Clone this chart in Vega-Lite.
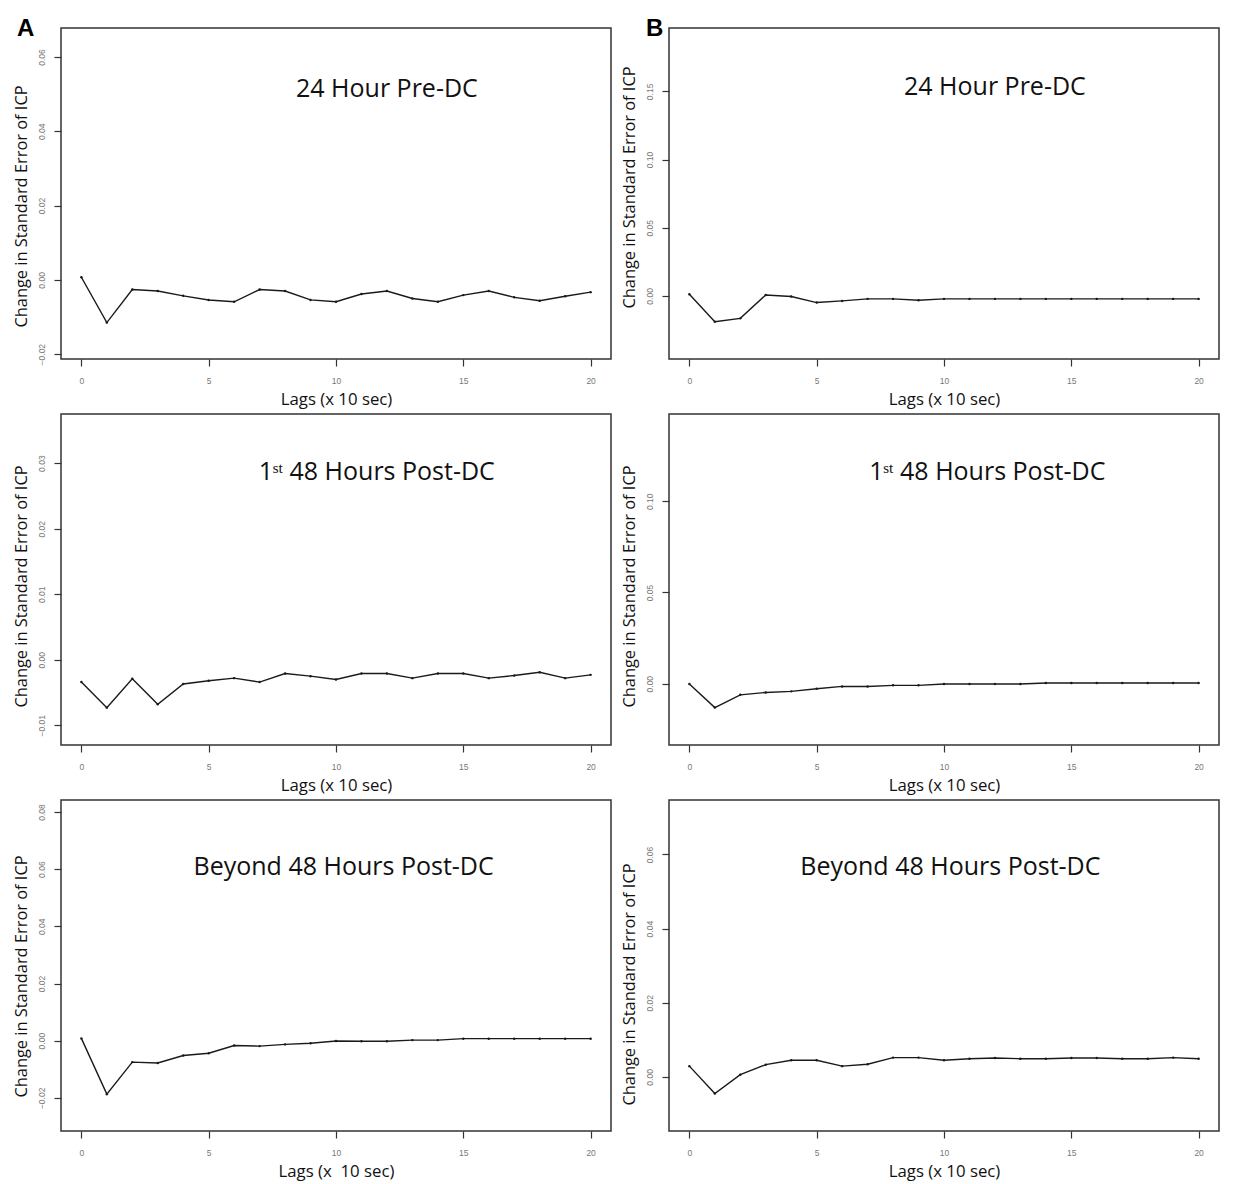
{
  "$schema": "https://vega.github.io/schema/vega-lite/v6.json",
  "background": "white",
  "padding": {"left": 12, "top": 16, "right": 10, "bottom": 0},
  "data": {"values": [
    {"panel":"A1","lag":0,"se":0.0007},{"panel":"A1","lag":1,"se":-0.0115},{"panel":"A1","lag":2,"se":-0.0026},{"panel":"A1","lag":3,"se":-0.003},{"panel":"A1","lag":4,"se":-0.0043},{"panel":"A1","lag":5,"se":-0.0054},{"panel":"A1","lag":6,"se":-0.0059},{"panel":"A1","lag":7,"se":-0.0026},{"panel":"A1","lag":8,"se":-0.003},{"panel":"A1","lag":9,"se":-0.0054},{"panel":"A1","lag":10,"se":-0.0059},{"panel":"A1","lag":11,"se":-0.0038},{"panel":"A1","lag":12,"se":-0.003},{"panel":"A1","lag":13,"se":-0.005},{"panel":"A1","lag":14,"se":-0.0059},{"panel":"A1","lag":15,"se":-0.0041},{"panel":"A1","lag":16,"se":-0.003},{"panel":"A1","lag":17,"se":-0.0047},{"panel":"A1","lag":18,"se":-0.0056},{"panel":"A1","lag":19,"se":-0.0044},{"panel":"A1","lag":20,"se":-0.0033},
    {"panel":"B1","lag":0,"se":0.0012},{"panel":"B1","lag":1,"se":-0.019},{"panel":"B1","lag":2,"se":-0.0165},{"panel":"B1","lag":3,"se":0.0007},{"panel":"B1","lag":4,"se":-0.0005},{"panel":"B1","lag":5,"se":-0.0049},{"panel":"B1","lag":6,"se":-0.0037},{"panel":"B1","lag":7,"se":-0.0022},{"panel":"B1","lag":8,"se":-0.0022},{"panel":"B1","lag":9,"se":-0.0032},{"panel":"B1","lag":10,"se":-0.0022},{"panel":"B1","lag":11,"se":-0.0022},{"panel":"B1","lag":12,"se":-0.0022},{"panel":"B1","lag":13,"se":-0.0022},{"panel":"B1","lag":14,"se":-0.0022},{"panel":"B1","lag":15,"se":-0.0022},{"panel":"B1","lag":16,"se":-0.0022},{"panel":"B1","lag":17,"se":-0.0022},{"panel":"B1","lag":18,"se":-0.0022},{"panel":"B1","lag":19,"se":-0.0022},{"panel":"B1","lag":20,"se":-0.0022},
    {"panel":"A2","lag":0,"se":-0.0034},{"panel":"A2","lag":1,"se":-0.0073},{"panel":"A2","lag":2,"se":-0.0029},{"panel":"A2","lag":3,"se":-0.0068},{"panel":"A2","lag":4,"se":-0.0037},{"panel":"A2","lag":5,"se":-0.0032},{"panel":"A2","lag":6,"se":-0.0028},{"panel":"A2","lag":7,"se":-0.0034},{"panel":"A2","lag":8,"se":-0.0021},{"panel":"A2","lag":9,"se":-0.0025},{"panel":"A2","lag":10,"se":-0.003},{"panel":"A2","lag":11,"se":-0.0021},{"panel":"A2","lag":12,"se":-0.0021},{"panel":"A2","lag":13,"se":-0.0028},{"panel":"A2","lag":14,"se":-0.0021},{"panel":"A2","lag":15,"se":-0.0021},{"panel":"A2","lag":16,"se":-0.0028},{"panel":"A2","lag":17,"se":-0.0024},{"panel":"A2","lag":18,"se":-0.0019},{"panel":"A2","lag":19,"se":-0.0028},{"panel":"A2","lag":20,"se":-0.0023},
    {"panel":"B2","lag":0,"se":-0.0002},{"panel":"B2","lag":1,"se":-0.0131},{"panel":"B2","lag":2,"se":-0.0061},{"panel":"B2","lag":3,"se":-0.0048},{"panel":"B2","lag":4,"se":-0.0042},{"panel":"B2","lag":5,"se":-0.0028},{"panel":"B2","lag":6,"se":-0.0015},{"panel":"B2","lag":7,"se":-0.0015},{"panel":"B2","lag":8,"se":-0.0009},{"panel":"B2","lag":9,"se":-0.0009},{"panel":"B2","lag":10,"se":-0.0002},{"panel":"B2","lag":11,"se":-0.0002},{"panel":"B2","lag":12,"se":-0.0002},{"panel":"B2","lag":13,"se":-0.0002},{"panel":"B2","lag":14,"se":0.0004},{"panel":"B2","lag":15,"se":0.0004},{"panel":"B2","lag":16,"se":0.0004},{"panel":"B2","lag":17,"se":0.0004},{"panel":"B2","lag":18,"se":0.0004},{"panel":"B2","lag":19,"se":0.0004},{"panel":"B2","lag":20,"se":0.0004},
    {"panel":"A3","lag":0,"se":0.0008},{"panel":"A3","lag":1,"se":-0.0187},{"panel":"A3","lag":2,"se":-0.0075},{"panel":"A3","lag":3,"se":-0.0078},{"panel":"A3","lag":4,"se":-0.0052},{"panel":"A3","lag":5,"se":-0.0044},{"panel":"A3","lag":6,"se":-0.0017},{"panel":"A3","lag":7,"se":-0.0019},{"panel":"A3","lag":8,"se":-0.0013},{"panel":"A3","lag":9,"se":-0.0009},{"panel":"A3","lag":10,"se":-0.0001},{"panel":"A3","lag":11,"se":-0.0002},{"panel":"A3","lag":12,"se":-0.0002},{"panel":"A3","lag":13,"se":0.0002},{"panel":"A3","lag":14,"se":0.0002},{"panel":"A3","lag":15,"se":0.0007},{"panel":"A3","lag":16,"se":0.0007},{"panel":"A3","lag":17,"se":0.0007},{"panel":"A3","lag":18,"se":0.0007},{"panel":"A3","lag":19,"se":0.0007},{"panel":"A3","lag":20,"se":0.0007},
    {"panel":"B3","lag":0,"se":0.0029},{"panel":"B3","lag":1,"se":-0.0045},{"panel":"B3","lag":2,"se":0.0006},{"panel":"B3","lag":3,"se":0.0033},{"panel":"B3","lag":4,"se":0.0045},{"panel":"B3","lag":5,"se":0.0045},{"panel":"B3","lag":6,"se":0.0029},{"panel":"B3","lag":7,"se":0.0034},{"panel":"B3","lag":8,"se":0.0052},{"panel":"B3","lag":9,"se":0.0052},{"panel":"B3","lag":10,"se":0.0045},{"panel":"B3","lag":11,"se":0.0049},{"panel":"B3","lag":12,"se":0.0051},{"panel":"B3","lag":13,"se":0.0049},{"panel":"B3","lag":14,"se":0.0049},{"panel":"B3","lag":15,"se":0.0051},{"panel":"B3","lag":16,"se":0.0051},{"panel":"B3","lag":17,"se":0.0049},{"panel":"B3","lag":18,"se":0.0049},{"panel":"B3","lag":19,"se":0.0052},{"panel":"B3","lag":20,"se":0.0049}
  ]},
  "columns": 2,
  "spacing": {"row": 3, "column": 8},
  "concat": [
    {
      "width": 550, "height": 331,
      "title": {"text": "A", "anchor": "start", "frame": "group", "orient": "top", "offset": 0, "dx": -44, "dy": 32, "baseline": "alphabetic", "font": "Liberation Sans", "fontSize": 24, "fontWeight": "bold", "color": "#000"},
      "layer": [
        {"transform": [{"filter": "datum.panel == 'A1'"}], "mark": {"type": "line", "color": "#1a1a1a", "strokeWidth": 1.4},
         "encoding": {
           "x": {"field": "lag", "type": "quantitative", "scale": {"domain": [-0.8, 20.8], "nice": false, "zero": false}, "axis": {"values": [0,5,10,15,20], "format": "d", "title": "Lags (x 10 sec)"}},
           "y": {"field": "se", "type": "quantitative", "scale": {"domain": [-0.0213, 0.0678], "nice": false, "zero": false}, "axis": {"values": [-0.02,0,0.02,0.04,0.06], "format": ".2f", "title": "Change in Standard Error of ICP", "titleY": 178}}}},
        {"transform": [{"filter": "datum.panel == 'A1'"}], "mark": {"type": "point", "filled": true, "size": 6, "color": "#1a1a1a", "opacity": 1},
         "encoding": {"x": {"field": "lag", "type": "quantitative"}, "y": {"field": "se", "type": "quantitative"}}},
        {"data": {"values": [{"label": "24 Hour Pre-DC"}]}, "mark": {"type": "text", "font": "Open Sans", "fontSize": 25, "color": "#111", "baseline": "middle", "align": "center"},
         "encoding": {"x": {"datum": 12.0}, "y": {"datum": 0.0515}, "text": {"field": "label"}}}
      ]
    },
    {
      "width": 550, "height": 331,
      "title": {"text": "B", "anchor": "start", "frame": "group", "orient": "top", "offset": 0, "dx": -23, "dy": 32, "baseline": "alphabetic", "font": "Liberation Sans", "fontSize": 24, "fontWeight": "bold", "color": "#000"},
      "layer": [
        {"transform": [{"filter": "datum.panel == 'B1'"}], "mark": {"type": "line", "color": "#1a1a1a", "strokeWidth": 1.4},
         "encoding": {
           "x": {"field": "lag", "type": "quantitative", "scale": {"domain": [-0.8, 20.8], "nice": false, "zero": false}, "axis": {"values": [0,5,10,15,20], "format": "d", "title": "Lags (x 10 sec)"}},
           "y": {"field": "se", "type": "quantitative", "scale": {"domain": [-0.0463, 0.1965], "nice": false, "zero": false}, "axis": {"values": [0,0.05,0.1,0.15], "format": ".2f", "title": "Change in Standard Error of ICP", "titleY": 159}}}},
        {"transform": [{"filter": "datum.panel == 'B1'"}], "mark": {"type": "point", "filled": true, "size": 6, "color": "#1a1a1a", "opacity": 1},
         "encoding": {"x": {"field": "lag", "type": "quantitative"}, "y": {"field": "se", "type": "quantitative"}}},
        {"data": {"values": [{"label": "24 Hour Pre-DC"}]}, "mark": {"type": "text", "font": "Open Sans", "fontSize": 25, "color": "#111", "baseline": "middle", "align": "center"},
         "encoding": {"x": {"datum": 12.0}, "y": {"datum": 0.153}, "text": {"field": "label"}}}
      ]
    },
    {
      "width": 550, "height": 331,
      "layer": [
        {"transform": [{"filter": "datum.panel == 'A2'"}], "mark": {"type": "line", "color": "#1a1a1a", "strokeWidth": 1.4},
         "encoding": {
           "x": {"field": "lag", "type": "quantitative", "scale": {"domain": [-0.8, 20.8], "nice": false, "zero": false}, "axis": {"values": [0,5,10,15,20], "format": "d", "title": "Lags (x 10 sec)"}},
           "y": {"field": "se", "type": "quantitative", "scale": {"domain": [-0.013, 0.0375], "nice": false, "zero": false}, "axis": {"values": [-0.01,0,0.01,0.02,0.03], "format": ".2f", "title": "Change in Standard Error of ICP", "titleY": 172}}}},
        {"transform": [{"filter": "datum.panel == 'A2'"}], "mark": {"type": "point", "filled": true, "size": 6, "color": "#1a1a1a", "opacity": 1},
         "encoding": {"x": {"field": "lag", "type": "quantitative"}, "y": {"field": "se", "type": "quantitative"}}},
        {"data": {"values": [{"label": "1ˢᵗ 48 Hours Post-DC"}]}, "mark": {"type": "text", "font": "Open Sans", "fontSize": 25, "color": "#111", "baseline": "middle", "align": "center"},
         "encoding": {"x": {"datum": 11.6}, "y": {"datum": 0.0287}, "text": {"field": "label"}}}
      ]
    },
    {
      "width": 550, "height": 331,
      "layer": [
        {"transform": [{"filter": "datum.panel == 'B2'"}], "mark": {"type": "line", "color": "#1a1a1a", "strokeWidth": 1.4},
         "encoding": {
           "x": {"field": "lag", "type": "quantitative", "scale": {"domain": [-0.8, 20.8], "nice": false, "zero": false}, "axis": {"values": [0,5,10,15,20], "format": "d", "title": "Lags (x 10 sec)"}},
           "y": {"field": "se", "type": "quantitative", "scale": {"domain": [-0.0336, 0.1478], "nice": false, "zero": false}, "axis": {"values": [0,0.05,0.1], "format": ".2f", "title": "Change in Standard Error of ICP", "titleY": 172}}}},
        {"transform": [{"filter": "datum.panel == 'B2'"}], "mark": {"type": "point", "filled": true, "size": 6, "color": "#1a1a1a", "opacity": 1},
         "encoding": {"x": {"field": "lag", "type": "quantitative"}, "y": {"field": "se", "type": "quantitative"}}},
        {"data": {"values": [{"label": "1ˢᵗ 48 Hours Post-DC"}]}, "mark": {"type": "text", "font": "Open Sans", "fontSize": 25, "color": "#111", "baseline": "middle", "align": "center"},
         "encoding": {"x": {"datum": 11.7}, "y": {"datum": 0.116}, "text": {"field": "label"}}}
      ]
    },
    {
      "width": 550, "height": 331,
      "layer": [
        {"transform": [{"filter": "datum.panel == 'A3'"}], "mark": {"type": "line", "color": "#1a1a1a", "strokeWidth": 1.4},
         "encoding": {
           "x": {"field": "lag", "type": "quantitative", "scale": {"domain": [-0.8, 20.8], "nice": false, "zero": false}, "axis": {"values": [0,5,10,15,20], "format": "d", "title": "Lags (x \u00a010 sec)"}},
           "y": {"field": "se", "type": "quantitative", "scale": {"domain": [-0.0316, 0.0842], "nice": false, "zero": false}, "axis": {"values": [-0.02,0,0.02,0.04,0.06,0.08], "format": ".2f", "title": "Change in Standard Error of ICP", "titleY": 176}}}},
        {"transform": [{"filter": "datum.panel == 'A3'"}], "mark": {"type": "point", "filled": true, "size": 6, "color": "#1a1a1a", "opacity": 1},
         "encoding": {"x": {"field": "lag", "type": "quantitative"}, "y": {"field": "se", "type": "quantitative"}}},
        {"data": {"values": [{"label": "Beyond 48 Hours Post-DC"}]}, "mark": {"type": "text", "font": "Open Sans", "fontSize": 25, "color": "#111", "baseline": "middle", "align": "center"},
         "encoding": {"x": {"datum": 10.3}, "y": {"datum": 0.0606}, "text": {"field": "label"}}}
      ]
    },
    {
      "width": 550, "height": 331,
      "layer": [
        {"transform": [{"filter": "datum.panel == 'B3'"}], "mark": {"type": "line", "color": "#1a1a1a", "strokeWidth": 1.4},
         "encoding": {
           "x": {"field": "lag", "type": "quantitative", "scale": {"domain": [-0.8, 20.8], "nice": false, "zero": false}, "axis": {"values": [0,5,10,15,20], "format": "d", "title": "Lags (x 10 sec)"}},
           "y": {"field": "se", "type": "quantitative", "scale": {"domain": [-0.0146, 0.0747], "nice": false, "zero": false}, "axis": {"values": [0,0.02,0.04,0.06], "format": ".2f", "title": "Change in Standard Error of ICP", "titleY": 184}}}},
        {"transform": [{"filter": "datum.panel == 'B3'"}], "mark": {"type": "point", "filled": true, "size": 6, "color": "#1a1a1a", "opacity": 1},
         "encoding": {"x": {"field": "lag", "type": "quantitative"}, "y": {"field": "se", "type": "quantitative"}}},
        {"data": {"values": [{"label": "Beyond 48 Hours Post-DC"}]}, "mark": {"type": "text", "font": "Open Sans", "fontSize": 25, "color": "#111", "baseline": "middle", "align": "center"},
         "encoding": {"x": {"datum": 10.25}, "y": {"datum": 0.0567}, "text": {"field": "label"}}}
      ]
    }
  ],
  "config": {
    "view": {"stroke": "#333", "strokeWidth": 1.5},
    "axis": {
      "domain": false, "grid": false,
      "tickColor": "#333", "tickSize": 7, "tickWidth": 1.2,
      "labelFont": "Liberation Sans", "labelFontSize": 8.5, "labelColor": "#777",
      "titleFont": "Open Sans", "titleFontSize": 16.8, "titleFontWeight": "normal", "titleColor": "#111"
    },
    "axisX": {"labelPadding": 10, "titlePadding": 7, "labelAngle": 0},
    "axisY": {"labelAngle": 270, "labelAlign": "center", "labelBaseline": "bottom", "labelPadding": 8, "titlePadding": 8, "titleFontSize": 16.4}
  }
}
